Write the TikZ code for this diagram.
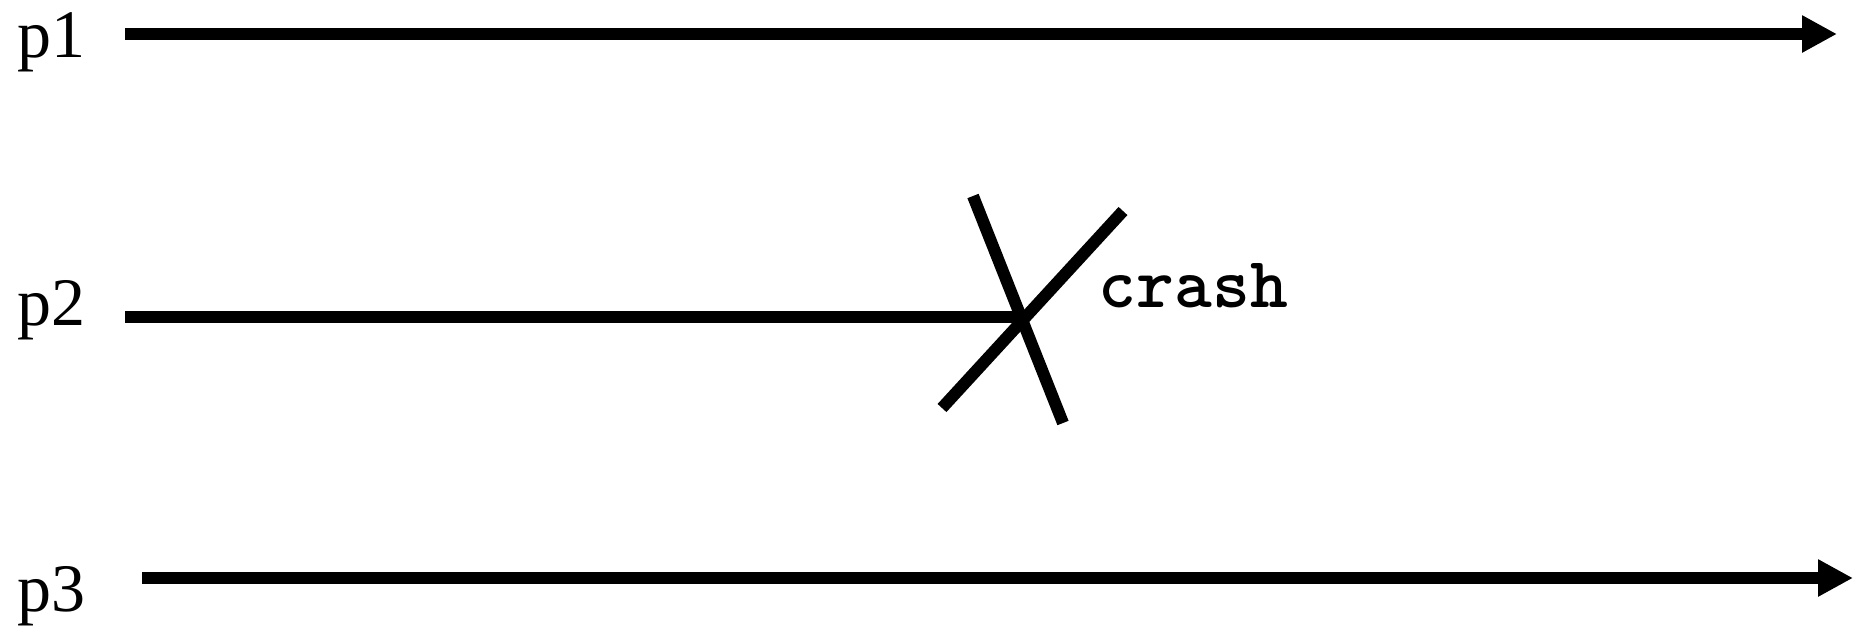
\documentclass[tikz,border=0pt]{standalone}
\usepackage{fontspec}
\setmainfont{Liberation Serif}
\usetikzlibrary{arrows.meta,positioning}

\begin{document}
\begin{tikzpicture}[x=0.25pt, y=-0.25pt,
      proc/.style  = {font=\fontsize{17}{19}\selectfont, inner sep=0pt,
                      anchor=base west},
      track/.style = {line width=3pt, black},
      arrow/.style = {track, -{Triangle[length=8.75pt, width=8.75pt]}},
      note/.style  = {font=\fontfamily{lmtt}\fontseries{b}\fontsize{18}{20}\selectfont,
                      inner sep=0pt, anchor=base west}
    ]
    \useasboundingbox (0,0) rectangle (1867,633);

    \node[proc] (p1) at (17,57)  {p1};
    \node[proc] (p2) at (17,325) {p2};
    \node[proc] (p3) at (17,611) {p3};

    \coordinate (p1s) at (125,34);
    \coordinate (p1e) at (1837,34);
    \coordinate (p2s) at (125,317);
    \coordinate (p2e) at (1022,317);
    \coordinate (p3s) at (142,578);
    \coordinate (p3e) at (1853,578);

    % the crash mark
    \coordinate (xa1) at (973,196);
    \coordinate (xa2) at (1063,423);
    \coordinate (xb1) at (1123,211);
    \coordinate (xb2) at (942,408);
    \node[note] (crash) at (1098,307) {crash};

    \draw[arrow] (p1s) -- (p1e);
    \draw[track] (p2s) -- (p2e);
    \draw[arrow] (p3s) -- (p3e);
    \draw[track] (xa1) -- (xa2);
    \draw[track] (xb1) -- (xb2);
  \end{tikzpicture}
\end{document}
